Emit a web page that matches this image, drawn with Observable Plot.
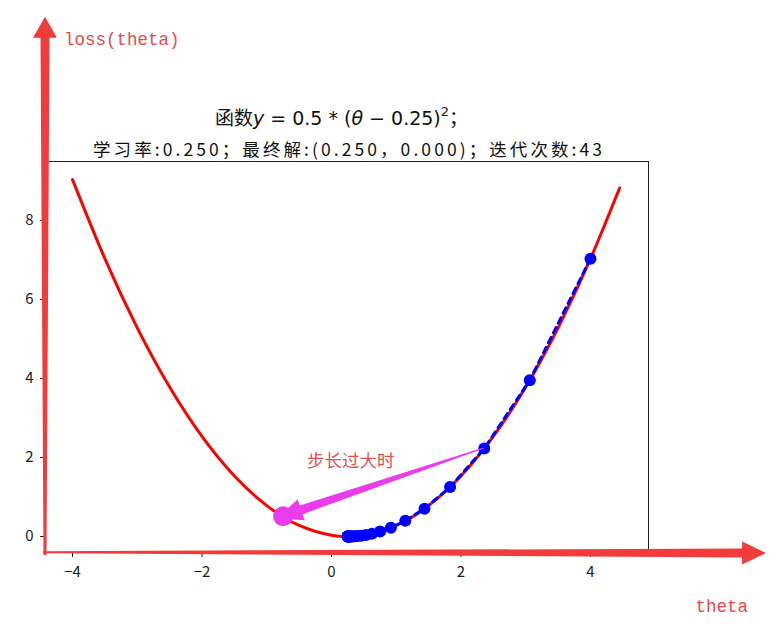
<!DOCTYPE html>
<html><head><meta charset="utf-8">
<script src="https://cdn.jsdelivr.net/npm/d3@7"></script>
<script src="https://cdn.jsdelivr.net/npm/@observablehq/plot@0.6"></script>
<style>body{margin:0;background:#fff}</style>
</head><body><div id="chart"></div>
<script>
// Red curve: loss(theta)
const curveTheta = [-4, -3.5, -3, -2.5, -2, -1.5, -1, -0.5, 0, 0.25, 0.5, 1, 1.5, 2, 2.5, 3, 3.5, 4, 4.45];
const curveLoss  = [9.031, 7.031, 5.281, 3.781, 2.531, 1.531, 0.781, 0.281, 0.031, 0, 0.031, 0.281, 0.781, 1.531, 2.531, 3.781, 5.281, 7.031, 8.82];
// Blue gradient-descent steps
const stepTheta = [4, 3.0625, 2.359, 1.832, 1.437, 1.140, 0.917, 0.751, 0.625, 0.532, 0.461, 0.408, 0.369, 0.339, 0.317, 0.300, 0.288, 0.278, 0.271, 0.266, 0.262, 0.259, 0.257, 0.255, 0.254, 0.253, 0.252, 0.251, 0.251, 0.250];
const stepLoss  = [7.031, 3.955, 2.225, 1.251, 0.704, 0.396, 0.223, 0.125, 0.070, 0.040, 0.022, 0.013, 0.007, 0.004, 0.002, 0.001, 0.001, 0, 0, 0, 0, 0, 0, 0, 0, 0, 0, 0, 0, 0];
const xTicks = [-4, -2, 0, 2, 4];
const yTicks = [0, 2, 4, 6, 8];
const xDomain = [-4.417, 4.896];
const yDomain = [-0.405, 9.49];
// Title
const titlePrefix = "函数";
const titleLine2 = "学习率:0.250；最终解:(0.250，0.000)；迭代次数:43";
// Annotations
const noteText = "步长过大时";
const notePos = [-0.37, 1.9];
const bigStepFrom = [2.359, 2.225];
const bigStepTo = [-0.84, 0.45];
const bigStepMark = [-0.74, 0.5];
const yAxisArrow = [[-4.417, -0.48], [-4.417, 13.14]];
const xAxisArrow = [[-4.45, -0.41], [6.72, -0.43]];
const yAxisLabel = "loss(theta)";
const xAxisLabel = "theta";

const curve = curveTheta.map((t, i) => ({t, l: curveLoss[i]}));
const steps = stepTheta.map((t, i) => ({t, l: stepLoss[i]}));

const plot = Plot.plot({
  width: 773, height: 624,
  marginLeft: 45, marginRight: 125, marginTop: 161, marginBottom: 72,
  style: {fontFamily: "'Noto Sans CJK SC'", fontSize: "15px", color: "#1a1a1a", background: "#fff"},
  x: {domain: xDomain},
  y: {domain: yDomain},
  marks: [
    Plot.line(curve, {x: "t", y: "l", stroke: "#ff0000", strokeWidth: 3, curve: "natural"}),
    Plot.line(steps, {x: "t", y: "l", stroke: "#0000ff", strokeWidth: 3, strokeDasharray: "6,5"}),
    Plot.dot(steps, {x: "t", y: "l", r: 6, fill: "#0000ff", stroke: "none"}),
    Plot.frame({stroke: "#222", strokeWidth: 1}),
    Plot.axisX({ticks: xTicks, tickSize: 5, tickPadding: 9, fontSize: 15, label: null}),
    Plot.axisY({ticks: yTicks, tickSize: 5, tickPadding: 7, fontSize: 15, label: null})
  ]
});
document.getElementById("chart").appendChild(plot);

const sx = plot.scale("x"), sy = plot.scale("y");
const P = d => [sx.apply(d[0]), sy.apply(d[1])];
const svg = d3.select(plot);

function taper(p0, p1, w0, w1, hw, hl) {
  const dx = p1[0] - p0[0], dy = p1[1] - p0[1];
  const len = Math.hypot(dx, dy), ux = dx / len, uy = dy / len, nx = -uy, ny = ux;
  const b = [p1[0] - ux * hl, p1[1] - uy * hl];
  const pts = [
    [p0[0] + nx * w0 / 2, p0[1] + ny * w0 / 2],
    [b[0] + nx * w1 / 2, b[1] + ny * w1 / 2],
    [b[0] + nx * hw, b[1] + ny * hw],
    p1,
    [b[0] - nx * hw, b[1] - ny * hw],
    [b[0] - nx * w1 / 2, b[1] - ny * w1 / 2],
    [p0[0] - nx * w0 / 2, p0[1] - ny * w0 / 2]
  ];
  return "M" + pts.map(p => p.join(",")).join("L") + "Z";
}

const g = svg.append("g").attr("text-anchor", "start");
// Big step (magenta)
g.append("circle").attr("cx", P(bigStepMark)[0]).attr("cy", P(bigStepMark)[1]).attr("r", 10).attr("fill", "#ea3cea");
g.append("path").attr("d", taper(P(bigStepFrom), P(bigStepTo), 1, 9, 11, 26)).attr("fill", "#ea3cea");
// Axis arrows (red)
g.append("path").attr("d", taper(P(yAxisArrow[0]), P(yAxisArrow[1]), 3, 9, 12, 21)).attr("fill", "#f23b3b");
g.append("path").attr("d", taper(P(xAxisArrow[0]), P(xAxisArrow[1]), 2, 9, 11.5, 24)).attr("fill", "#f23b3b");

// Labels
g.append("text").text(yAxisLabel).attr("x", P(yAxisArrow[1])[0] + 19).attr("y", 45).attr("text-anchor", "start")
  .attr("font-family", "Liberation Mono").attr("font-size", 17.5).attr("fill", "#e64a4a");
g.append("text").text(xAxisLabel).attr("x", 748).attr("y", 612).attr("text-anchor", "end")
  .attr("font-family", "Liberation Mono").attr("font-size", 17.5).attr("fill", "#e64a4a");
g.append("text").text(noteText).attr("x", P(notePos)[0]).attr("y", P(notePos)[1] + 6).attr("text-anchor", "start")
  .attr("font-family", "Noto Sans CJK SC").attr("font-size", 17.5).attr("fill", "#e65050");

// Title
const cx = (sx.apply(xDomain[0]) + sx.apply(xDomain[1])) / 2;
const t1 = g.append("text").attr("x", cx - 5).attr("y", 125).attr("text-anchor", "middle")
  .attr("font-family", "DejaVu Sans").attr("font-size", 19).attr("fill", "#111");
t1.append("tspan").attr("font-family", "Noto Sans CJK SC").text(titlePrefix);
t1.append("tspan").attr("font-style", "italic").text("y");
t1.append("tspan").text(" = 0.5 * (");
t1.append("tspan").attr("font-style", "italic").text("θ");
t1.append("tspan").text(" − 0.25)");
t1.append("tspan").attr("font-size", 13).attr("dy", -9).text("2");
t1.append("tspan").attr("dy", 9).attr("font-family", "Noto Sans CJK SC").text("；");
g.append("text").attr("x", cx + 1).attr("y", 156).attr("text-anchor", "middle")
  .attr("font-family", "Noto Sans CJK SC").attr("font-size", 17.5).attr("fill", "#111")
  .attr("textLength", 509).attr("lengthAdjust", "spacing")
  .text(titleLine2);
</script>
</body></html>
